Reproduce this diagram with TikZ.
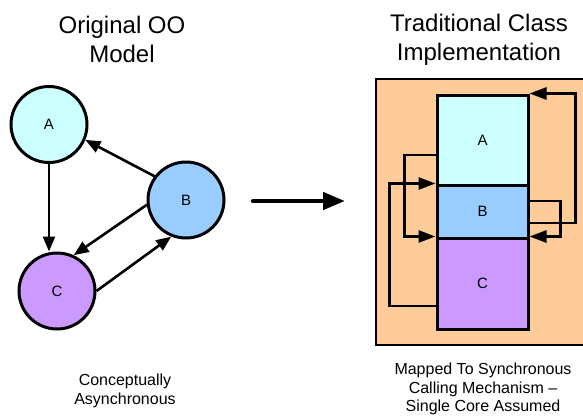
\documentclass[tikz,border=0pt]{standalone}
\usepackage{fontspec}
\setmainfont{Liberation Sans}
\usetikzlibrary{arrows.meta,calc}
\definecolor{clsA}{HTML}{CCFFFF}
\definecolor{clsB}{HTML}{99CCFF}
\definecolor{clsC}{HTML}{CC99FF}
\definecolor{panel}{HTML}{FFCC99}
\tikzset{
  obj/.style={circle, draw=black, line width=3pt, minimum size=76pt, inner sep=0pt,
              font=\fontsize{15}{18}\selectfont},
  call/.style={line width=2.6pt, -{Triangle[length=15pt,width=12pt]}},
  slab/.style={rectangle, draw=black, line width=3pt, minimum width=91pt, inner sep=0pt,
               font=\fontsize{15}{18}\selectfont},
  conn/.style={line width=2.6pt, -{Triangle[length=17pt,width=12pt]}},
  heading/.style={align=center, font=\fontsize{24}{29}\selectfont},
  caption/.style={align=center, font=\fontsize{16}{19}\selectfont},
}
\begin{document}
\begin{tikzpicture}[x=1pt,y=-1pt]
\useasboundingbox (0,0) rectangle (583,415);

% headings
\node[heading] (t1) at (122,39.5) {Original OO\\Model};
\node[heading] (t2) at (479,39.5) {Traditional Class\\Implementation};

% object model
\node[obj, fill=clsA] (A) at (49,124.5) {A};
\node[obj, fill=clsB] (B) at (186,200) {B};
\node[obj, fill=clsC] (C) at (57,291) {C};

\draw[call] (A.south -| 49,0) -- (C.north -| 49,0);
\draw[call] (B.143) -- (A.-23);
\draw[call] (B.187) -- (C.65);
\draw[call] (C.0) -- (B.248);

% mapping arrow
\coordinate (mapfrom) at (253,201);
\coordinate (mapto) at (345,201);
\draw[line width=4.5pt, line cap=round, -{Triangle[length=22pt,width=17pt]}] (mapfrom) -- (mapto);

% class implementation panel
\fill[panel] (376,79) rectangle (590,345);
\draw[line width=2.5pt] (590,79) -- (376,79) -- (376,345) -- (590,345);

\node[slab, fill=clsA, minimum height=90pt] (sa) at (482.5,140) {A};
\node[slab, fill=clsB, minimum height=53pt] (sb) at (482.5,211.5) {B};
\node[slab, fill=clsC, minimum height=91pt] (sc) at (482.5,283.5) {C};

\draw[conn] ([yshift=-11.5pt]sb.east) -- ++(46,0) |- (sa.north east);
\draw[conn] ([yshift=10.5pt]sb.east) -- ++(31,0) |- (sc.north east);
\draw[conn] ([yshift=-15pt]sa.west) -- ++(-31,0) |- (sc.north west);
\draw[conn] ([yshift=-22.5pt]sc.west) -- ++(-46,0) |- (sb.north west);

% captions
\node[caption] (c1) at (125,390.5) {Conceptually\\Asynchronous};
\node[caption, font=\fontsize{16}{18.5}\selectfont] (c2) at (483,389) {Mapped To Synchronous\\Calling Mechanism –\\Single Core Assumed};
\end{tikzpicture}
\end{document}
